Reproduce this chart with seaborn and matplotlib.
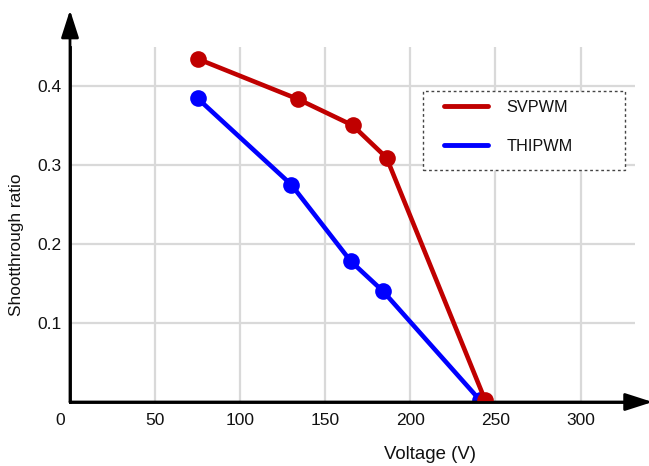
import matplotlib
matplotlib.use("Agg")
import matplotlib.pyplot as plt
import matplotlib.transforms as mtransforms
import seaborn as sns
import pandas as pd
from matplotlib.lines import Line2D
from matplotlib.patches import Rectangle

# ---- data ----
svpwm_voltage = [75, 134, 166, 186, 244]
svpwm_ratio = [0.434, 0.383, 0.350, 0.309, 0.002]
thipwm_voltage = [75, 130, 165, 184, 241]
thipwm_ratio = [0.384, 0.275, 0.178, 0.140, 0.002]
series_names = ["SVPWM", "THIPWM"]
x_ticks = [0, 50, 100, 150, 200, 250, 300]
y_ticks = [0.1, 0.2, 0.3, 0.4]

sns.set_theme(style="white")
plt.rcParams["font.family"] = ["Liberation Sans", "DejaVu Sans"]

df_sv = pd.DataFrame({"Voltage": svpwm_voltage, "Ratio": svpwm_ratio})
df_th = pd.DataFrame({"Voltage": thipwm_voltage, "Ratio": thipwm_ratio})

red = "#C00000"
blue = "#0000FF"

fig = plt.figure(figsize=(6.49, 4.66), dpi=100)
ax = fig.add_axes([70 / 649, 1 - 402 / 466, 565 / 649, 355 / 466])

ax.set_xlim(0, 332)
ax.set_ylim(0, 0.449)
ax.set_xticks(x_ticks)
ax.set_yticks(y_ticks)
ax.set_xticklabels([str(v) for v in x_ticks])
ax.set_yticklabels([f"{v:.1f}" for v in y_ticks])
ax.grid(True, color="#D9D9D9", linewidth=1.6, zorder=0)
ax.set_axisbelow(True)

sns.lineplot(data=df_th, x="Voltage", y="Ratio", ax=ax, color=blue,
             linewidth=3.3, marker="o", markersize=12, markeredgewidth=0,
             zorder=3)
sns.lineplot(data=df_sv, x="Voltage", y="Ratio", ax=ax, color=red,
             linewidth=3.3, marker="o", markersize=12, markeredgewidth=0,
             zorder=4)

for s in ["top", "right"]:
    ax.spines[s].set_visible(False)
for s in ["left", "bottom"]:
    ax.spines[s].set_color("black")
    ax.spines[s].set_linewidth(2)
    ax.spines[s].set_zorder(5)

ax.tick_params(axis="both", direction="in", length=7, width=2, color="black",
               labelsize=12.5, labelcolor="#111111")
ax.tick_params(axis="x", pad=8)
ax.tick_params(axis="y", pad=6)

# shift the "0" label slightly left, as in the reference
first_tick = ax.xaxis.get_major_ticks()[0]
first_tick.label1.set_transform(
    first_tick.label1.get_transform()
    + mtransforms.ScaledTranslation(-0.10, 0, fig.dpi_scale_trans))

# arrows
arrow_style = "-|>,head_length=1.4,head_width=0.45"
ax.annotate("", xy=(0, 1.104), xycoords="axes fraction", xytext=(0, 0),
            arrowprops=dict(arrowstyle=arrow_style, color="black", lw=2,
                            shrinkA=0, shrinkB=0),
            annotation_clip=False)
ax.annotate("", xy=(1.031, 0), xycoords="axes fraction", xytext=(0, 0),
            arrowprops=dict(arrowstyle=arrow_style, color="black", lw=2,
                            shrinkA=0, shrinkB=0),
            annotation_clip=False)

ax.set_xlabel("Voltage (V)", fontsize=13.4, color="#111111")
ax.set_ylabel("Shootthrough ratio", fontsize=12.4, color="#111111")
ax.xaxis.set_label_coords(0.637, -0.123)
ax.yaxis.set_label_coords(-0.081, 0.442)

# legend
handles = [Line2D([], [], color=red, lw=3.5, solid_capstyle="round"),
           Line2D([], [], color=blue, lw=3.5, solid_capstyle="round")]
ax.add_patch(Rectangle(((423 - 70) / 565, (402 - 170) / 355),
                       (625 - 423) / 565, (170 - 91) / 355,
                       transform=ax.transAxes, fill=True, facecolor="white",
                       edgecolor="#444444", linestyle=(0, (2, 2)), lw=1,
                       zorder=6, clip_on=False))
leg = ax.legend(handles, series_names, loc="upper left",
                bbox_to_anchor=((431 - 70) / 565, (402 - 87) / 355),
                frameon=False, fontsize=11.7, handlelength=2.7,
                handletextpad=1.15, labelspacing=1.45, borderpad=0.3)
leg.set_zorder(7)
for t in leg.get_texts():
    t.set_color("#111111")

fig.savefig("out.png", dpi=100)
